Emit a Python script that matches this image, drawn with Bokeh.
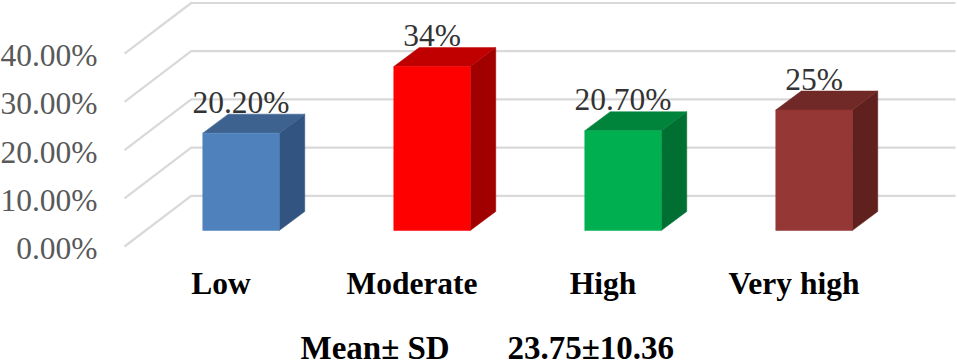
from bokeh.plotting import figure
from bokeh.models import Range1d, LinearAxis, FixedTicker, PrintfTickFormatter
from bokeh.core.properties import value
from bokeh.embed import file_html
from bokeh.resources import INLINE

categories = ["Low", "Moderate", "High", "Very high"]
values = [20.2, 34, 20.7, 25]
value_labels = ["20.20%", "34%", "20.70%", "25%"]
tick_values = [0, 10, 20, 30, 40]
front_colors = ["#4f81bd", "#ff0000", "#00b050", "#953735"]
top_colors = ["#3d628f", "#c00000", "#00843c", "#702926"]
side_colors = ["#325480", "#a00000", "#006f32", "#5f201e"]
summary_name = "Mean\u00b1 SD"
summary_value = "23.75\u00b110.36"

# layout constants (page pixels)
W, H = 957, 360
OFF = 5                   # the value axis keeps a small blank strip on its left; slide it off the page
BORDER = 112              # left border inside the figure
LEFT = BORDER - OFF       # frame's left edge in page pixels
X0, DX = 240.5, 191.0     # centre of first bar, spacing
Y0, PX = 230.0, 4.82      # baseline pixel, pixels per percent
to_x = lambda px: (px - X0) / DX
to_y = lambda py: (Y0 - py) / PX

p = figure(width=W + OFF, height=H, output_backend="svg", toolbar_location=None,
           x_range=Range1d(to_x(LEFT), to_x(W)), y_range=Range1d(to_y(H), to_y(0)),
           min_border_left=BORDER, min_border_right=0, min_border_top=0, min_border_bottom=0,
           outline_line_color=None, background_fill_color="white", border_fill_color="white",
           x_axis_location=None, y_axis_location=None)
p.styles = {"position": "absolute", "left": f"-{OFF}px", "top": "0px"}
p.xgrid.visible = False
p.ygrid.visible = False

# perspective gridlines
gx_front, gx_back, gx_right = to_x(124), to_x(190.7), to_x(955)
d_front, d_back = (Y0 - 246) / PX, (Y0 - 195.3) / PX
xs = [[gx_front, gx_back, gx_right] for _ in tick_values]
ys = [[t + d_front, t + d_back, t + d_back] for t in tick_values]
p.multi_line(xs, ys, line_color="#d9d9d9", line_width=2.2)

# 3-D bars
half = 76.5 / 2 / DX
ddx, ddy = 25.5 / DX, 19.0 / PX
for i, v in enumerate(values):
    l, r = i - half, i + half
    p.patch([r, r + ddx, r + ddx, r], [0, ddy, v + ddy, v], fill_color=side_colors[i], line_color=side_colors[i], line_width=0.5)
    p.patch([l, r, r + ddx, l + ddx], [v, v, v + ddy, v + ddy], fill_color=top_colors[i], line_color=top_colors[i], line_width=0.5)
    p.quad(left=l, right=r, bottom=0, top=v, fill_color=front_colors[i], line_color=front_colors[i], line_width=0.5)

p.text(x=list(range(4)), y=values, text=value_labels, y_offset=-31, text_align="center",
       text_baseline="alphabetic", text_font=value("Liberation Serif"), text_font_size="31.5px", text_color="#333333")

# value axis, sitting on the front edge of the perspective floor
p.extra_y_ranges["front"] = Range1d((248 - H) / PX, 248 / PX)
ya = LinearAxis(y_range_name="front", ticker=FixedTicker(ticks=tick_values),
                formatter=PrintfTickFormatter(format="%.2f%%"),
                axis_line_color=None, major_tick_line_color=None, minor_tick_line_color=None,
                major_tick_out=0, major_tick_in=0, minor_tick_out=0, minor_tick_in=0,
                major_label_standoff=10, major_label_text_font="Liberation Serif",
                major_label_text_font_size="31.5px", major_label_text_color="#595959")
p.add_layout(ya, "left")

# category names, under the front edge of the floor
cat_shift = 20 / DX
p.text(x=[i - cat_shift for i in range(4)], y=[to_y(282.5)] * 4, text=categories, text_align="center",
       text_baseline="middle", text_font=value("Liberation Serif"), text_font_style="bold",
       text_font_size="31.5px", text_color="#000000")

# summary line
p.text(x=[to_x(300), to_x(507)], y=[to_y(347)] * 2, text=[summary_name, summary_value], text_align="left",
       text_baseline="middle", text_font=value("Liberation Serif"), text_font_style="bold",
       text_font_size="33px", text_color="#000000")

open("out.html", "w").write(file_html(p, INLINE))
